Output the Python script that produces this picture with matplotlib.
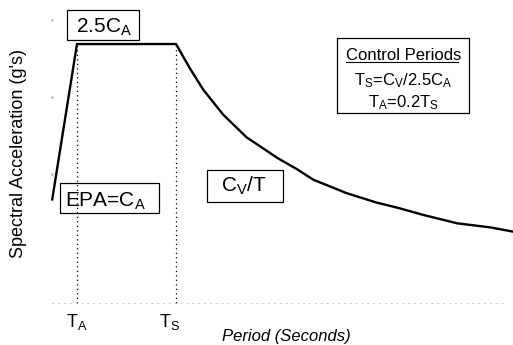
import matplotlib
matplotlib.use("Agg")
import matplotlib.pyplot as plt
from matplotlib.patches import Rectangle

# valores (Ca = 1, Ts = 1)
periodo = [0.0, 0.2, 1.0, 1.11, 1.22, 1.38, 1.57, 1.82, 1.98, 2.11, 2.38, 2.62, 2.79, 3.0, 3.27, 3.54, 3.72]
acel = [1.0, 2.5, 2.5, 2.27, 2.06, 1.82, 1.60, 1.40, 1.29, 1.19, 1.06, 0.97, 0.92, 0.85, 0.77, 0.73, 0.69]
t_controle = [0.2, 1.0]
rotulos_t = [r"T$_{\rm A}$", r"T$_{\rm S}$"]

plt.rcParams['font.family'] = ['Liberation Sans', 'DejaVu Sans']
plt.rcParams['mathtext.fontset'] = 'custom'
plt.rcParams['mathtext.rm'] = 'Liberation Sans'
plt.rcParams['mathtext.it'] = 'Liberation Sans:italic'

fig = plt.figure(figsize=[5.13, 3.45], dpi=100)
ax = fig.add_axes([0, 0, 1, 1])
ax.set_xlim(-0.422, 3.723)
ax.set_ylim(-0.405, 2.925)
ax.axis('off')

# curva do espectro
ax.plot(periodo, acel, color='black', lw=1.7, solid_joinstyle='round')

# linhas pontilhadas nos periodos de controle
for t, rot, dx in zip(t_controle, rotulos_t, [0.0, -0.05]):
    ax.plot([t, t], [0, 2.5], color='black', lw=0.9, linestyle=(0, (1, 2.6)))
    ax.text(t + dx, -0.232, rot, fontsize=13, ha='center', va='baseline')

# eixo horizontal apagado (scan)
ax.plot([0, 3.65], [0, 0], color='0.75', lw=0.6, linestyle=(0, (2, 5)))
ax.plot([0, 0, 0], [2.73, 1.99, 1.25], linestyle='none', marker='.', color='0.75', ms=2)

def caixa(x0, x1, y0, y1):
    ax.add_patch(Rectangle((x0, y0), x1 - x0, y1 - y0, fill=False, ec='black', lw=0.9))

# caixas de texto
caixa(0.119, 0.701, 2.539, 2.828)
ax.text(0.416, 2.606, r"2.5C$_{\rm A}$", fontsize=15, ha='center', va='baseline')

caixa(0.063, 0.863, 0.869, 1.158)
ax.text(0.434, 0.927, r"EPA=C$_{\rm A}$", fontsize=15, ha='center', va='baseline')

caixa(1.250, 1.865, 0.975, 1.284)
ax.text(1.545, 1.07, r"C$_{\rm V}$/T", fontsize=15, ha='center', va='baseline')

caixa(2.30, 3.37, 1.83, 2.56)
ax.text(2.837, 2.346, "Control Periods", fontsize=12, ha='center', va='baseline')
ax.plot([2.374, 3.279], [2.326, 2.326], color='black', lw=0.8)
ax.text(2.837, 2.104, r"T$_{\rm S}$=C$_{\rm V}$/2.5C$_{\rm A}$", fontsize=12, ha='center', va='baseline')
ax.text(2.837, 1.892, r"T$_{\rm A}$=0.2T$_{\rm S}$", fontsize=12, ha='center', va='baseline')

# titulos dos eixos
ax.text(-0.269, 1.448, "Spectral Acceleration (g's)", fontsize=13, rotation=90, ha='center', va='center')
ax.text(1.89, -0.367, "Period (Seconds)", fontsize=12, style='italic', ha='center', va='baseline')

plt.savefig('out.png', dpi=100)
